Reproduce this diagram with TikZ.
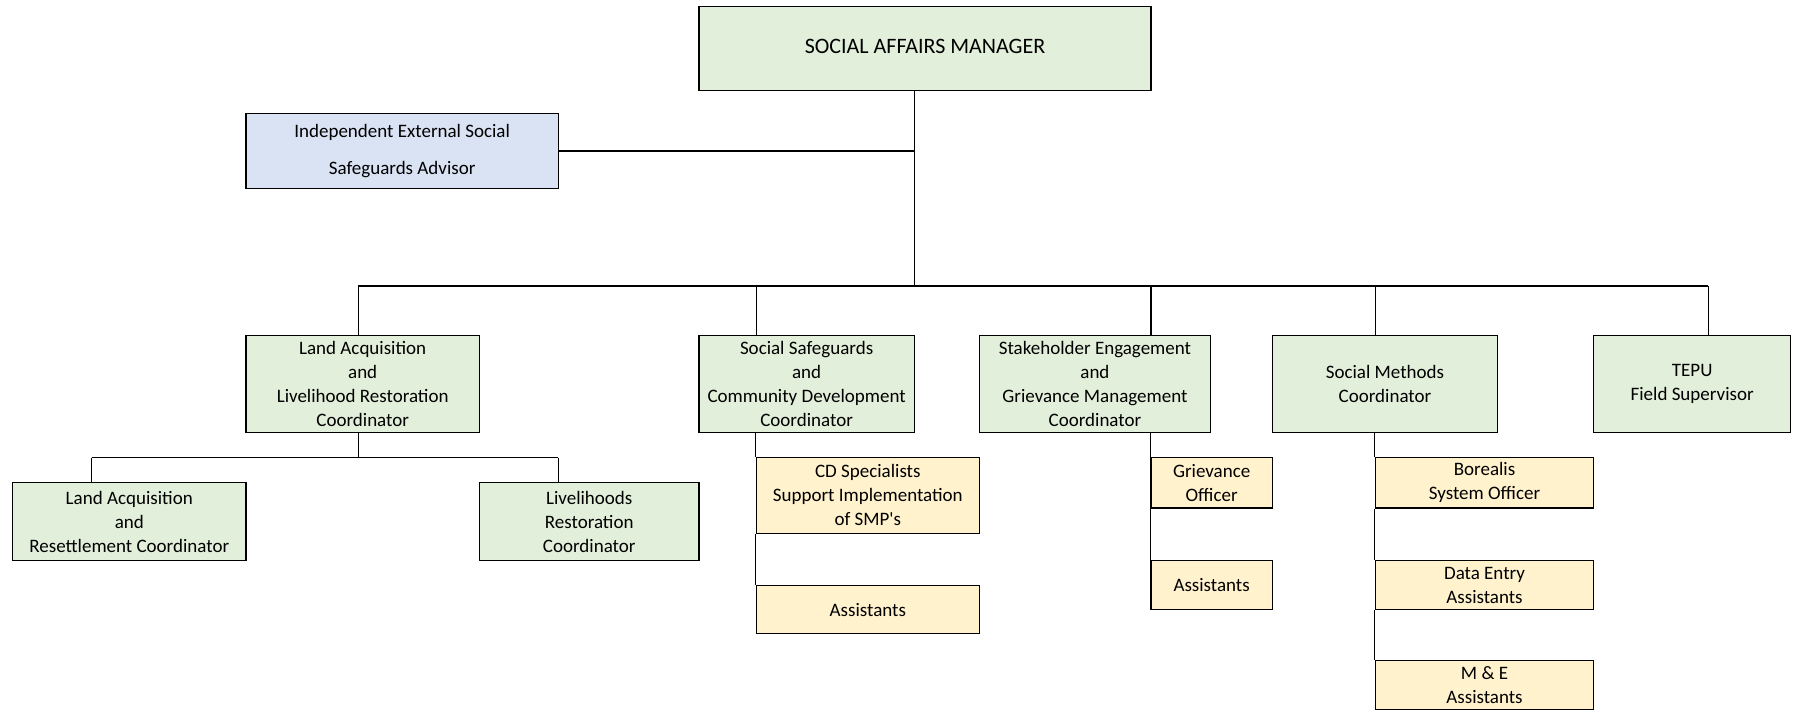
\documentclass[tikz,border=0pt]{standalone}
\usepackage{fontspec}
\setmainfont{Carlito}
\definecolor{gfill}{HTML}{E2EFDA}
\definecolor{bfill}{HTML}{DAE3F3}
\definecolor{yfill}{HTML}{FFF2CC}
\newcommand{\obox}[7]{\node[#1, minimum width={(#4-#2)*0.5721pt}, minimum height={(#5-#3)*0.5721pt}] (#6) at ({(#2+#4)/2},{(#3+#5)/2}) {#7};}
\tikzset{
  base/.style={draw=black, line width=0.6pt, inner sep=0pt, align=center, font=\fontsize{9.5}{12}\selectfont},
  gbox/.style={base, fill=gfill},
  bbox/.style={base, fill=bfill, font=\fontsize{9.5}{19}\selectfont},
  ybox/.style={base, fill=yfill},
  tbox/.style={base, fill=gfill, font=\fontsize{11}{13}\selectfont},
  link/.style={draw=black, line width=0.6pt}
}
\begin{document}
\begin{tikzpicture}[x=0.5721pt, y=-0.5721pt]
\useasboundingbox (0,0) rectangle (1568,621);
\coordinate (b0) at (799,250);
\coordinate (j1) at (313,250);
\coordinate (j2) at (661,250);
\coordinate (j3) at (1006,250);
\coordinate (j4) at (1202,250);
\coordinate (j5) at (1493,250);
\coordinate (k0) at (313,400);
\coordinate (k1) at (80,400);
\coordinate (k2) at (488,400);
% boxes
\obox{tbox}{611}{6}{1006}{79}{top}{\raisebox{2pt}{SOCIAL AFFAIRS MANAGER}}
\obox{bbox}{215}{99}{488}{165}{adv}{Independent External Social\\Safeguards Advisor}
\obox{gbox}{215}{293}{419}{378}{la}{Land Acquisition\\and\\Livelihood Restoration\\Coordinator}
\obox{gbox}{611}{293}{799}{378}{ss}{Social Safeguards\\and\\Community Development\\Coordinator}
\obox{gbox}{856}{293}{1058}{378}{se}{Stakeholder Engagement\\and\\Grievance Management\\Coordinator}
\obox{gbox}{1112}{293}{1309}{378}{sm}{Social Methods\\Coordinator}
\obox{gbox}{1393}{293}{1565}{378}{te}{TEPU\\Field Supervisor}
\obox{gbox}{11}{422}{215}{490}{lar}{Land Acquisition\\and\\Resettlement Coordinator}
\obox{gbox}{419}{422}{611}{490}{lrc}{Livelihoods\\Restoration\\Coordinator}
\obox{ybox}{661}{400}{856}{466}{cds}{CD Specialists\\Support Implementation\\of SMP\textquotesingle s}
\obox{ybox}{661}{512}{856}{554}{ssa}{Assistants}
\obox{ybox}{1006}{400}{1112}{444}{go}{Grievance\\Officer}
\obox{ybox}{1006}{490}{1112}{533}{gas}{Assistants}
\obox{ybox}{1202}{400}{1393}{444}{bor}{Borealis\\System Officer}
\obox{ybox}{1202}{490}{1393}{533}{de}{Data Entry\\Assistants}
\obox{ybox}{1202}{577}{1393}{620}{me}{M \& E\\Assistants}
% links
\draw[link] (top.south -| b0) -- (b0);
\draw[link] (adv.east) -- (adv.east -| b0);
\draw[link] (j1) -- (j5);
\draw[link] (j1) -- (j1 |- la.north);
\draw[link] (j2) -- (j2 |- ss.north);
\draw[link] (j3) -- (j3 |- se.north);
\draw[link] (j4) -- (j4 |- sm.north);
\draw[link] (j5) -- (j5 |- te.north);
\draw[link] (la.south -| k0) -- (k0);
\draw[link] (k1) -- (k2);
\draw[link] (k1) -- (k1 |- lar.north);
\draw[link] (k2) -- (k2 |- lrc.north);
\draw[link] (ss.south -| cds.west) -- (cds.north west);
\draw[link] (cds.south west) -- (ssa.north west);
\draw[link] (se.south -| go.west) -- (go.north west);
\draw[link] (go.south west) -- (gas.north west);
\draw[link] (sm.south -| bor.west) -- (bor.north west);
\draw[link] (bor.south west) -- (de.north west);
\draw[link] (de.south west) -- (me.north west);
\end{tikzpicture}
\end{document}
